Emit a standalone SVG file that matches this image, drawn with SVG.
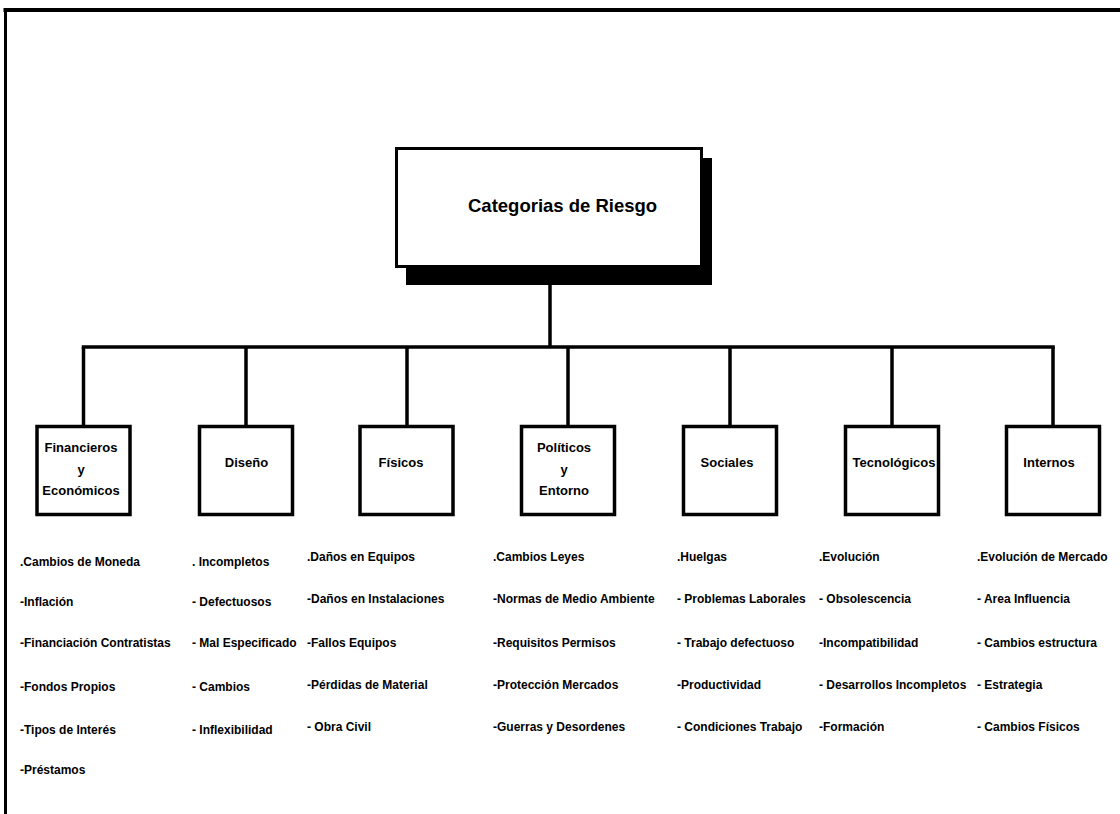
<svg xmlns="http://www.w3.org/2000/svg" width="1120" height="814" viewBox="0 0 1120 814">
<style>
.frame{fill:none;stroke:#000;}
.box{fill:#fff;stroke:#000;stroke-width:3.5;}
.line{stroke:#000;stroke-width:3.5;fill:none;}
.lbl{font-family:"Liberation Sans",Arial,sans-serif;font-weight:bold;font-size:13px;fill:#000;text-anchor:middle;}
.item{font-family:"Liberation Sans",Arial,sans-serif;font-weight:bold;font-size:12px;fill:#000;}
.title{font-family:"Liberation Sans",Arial,sans-serif;font-weight:bold;font-size:18.5px;fill:#000;}
</style>
<rect width="1120" height="814" fill="#fff"/>
<line x1="3.5" y1="10" x2="1120" y2="10" stroke="#000" stroke-width="4"/>
<line x1="5.5" y1="8" x2="5.5" y2="814" stroke="#000" stroke-width="3"/>

<g id="connectors">
<line class="line" x1="550" y1="284" x2="550" y2="347"/>
<line class="line" x1="81.75" y1="347" x2="1054.75" y2="347"/>
<line class="line" x1="83.5" y1="347" x2="83.5" y2="426"/>
<line class="line" x1="246" y1="347" x2="246" y2="426"/>
<line class="line" x1="407" y1="347" x2="407" y2="426"/>
<line class="line" x1="568" y1="347" x2="568" y2="426"/>
<line class="line" x1="730" y1="347" x2="730" y2="426"/>
<line class="line" x1="892" y1="347" x2="892" y2="426"/>
<line class="line" x1="1053" y1="347" x2="1053" y2="426"/>
</g>

<g id="root">
<rect x="406" y="158" width="306" height="127" fill="#000"/>
<rect x="396.5" y="148.5" width="305" height="118" fill="#fff" stroke="#000" stroke-width="3"/>
<text class="title" x="468" y="212">Categorias de Riesgo</text>
</g>

<g id="financieros">
<rect class="box" x="37" y="426.5" width="93" height="88"/>
<text class="lbl" x="81" y="452">Financieros</text>
<text class="lbl" x="81" y="474">y</text>
<text class="lbl" x="81" y="495">Económicos</text>
</g>
<g id="diseno">
<rect class="box" x="199.5" y="426.5" width="93" height="88"/>
<text class="lbl" x="246.5" y="467">Diseño</text>
</g>
<g id="fisicos">
<rect class="box" x="360" y="426.5" width="93" height="88"/>
<text class="lbl" x="401" y="467">Físicos</text>
</g>
<g id="politicos">
<rect class="box" x="521.5" y="426.5" width="93" height="88"/>
<text class="lbl" x="564" y="452">Políticos</text>
<text class="lbl" x="564" y="474">y</text>
<text class="lbl" x="564" y="495">Entorno</text>
</g>
<g id="sociales">
<rect class="box" x="683.5" y="426.5" width="93" height="88"/>
<text class="lbl" x="727" y="467">Sociales</text>
</g>
<g id="tecnologicos">
<rect class="box" x="845.5" y="426.5" width="93" height="88"/>
<text class="lbl" x="894" y="467">Tecnológicos</text>
</g>
<g id="internos">
<rect class="box" x="1006.5" y="426.5" width="93" height="88"/>
<text class="lbl" x="1049" y="467">Internos</text>
</g>

<g id="list-financieros">
<text class="item" x="20" y="566">.Cambios de Moneda</text>
<text class="item" x="20" y="606">-Inflación</text>
<text class="item" x="20" y="647">-Financiación Contratistas</text>
<text class="item" x="20" y="691">-Fondos Propios</text>
<text class="item" x="20" y="734">-Tipos de Interés</text>
<text class="item" x="20" y="774">-Préstamos</text>
</g>
<g id="list-diseno">
<text class="item" x="192" y="566">. Incompletos</text>
<text class="item" x="192" y="606">- Defectuosos</text>
<text class="item" x="192" y="647">- Mal Especificado</text>
<text class="item" x="192" y="691">- Cambios</text>
<text class="item" x="192" y="734">- Inflexibilidad</text>
</g>
<g id="list-fisicos">
<text class="item" x="307" y="561">.Daños en Equipos</text>
<text class="item" x="307" y="603">-Daños en Instalaciones</text>
<text class="item" x="307" y="647">-Fallos Equipos</text>
<text class="item" x="307" y="689">-Pérdidas de Material</text>
<text class="item" x="307" y="731">- Obra Civil</text>
</g>
<g id="list-politicos">
<text class="item" x="493" y="561">.Cambios Leyes</text>
<text class="item" x="493" y="603">-Normas de Medio Ambiente</text>
<text class="item" x="493" y="647">-Requisitos Permisos</text>
<text class="item" x="493" y="689">-Protección Mercados</text>
<text class="item" x="493" y="731">-Guerras y Desordenes</text>
</g>
<g id="list-sociales">
<text class="item" x="677" y="561">.Huelgas</text>
<text class="item" x="677" y="603">- Problemas Laborales</text>
<text class="item" x="677" y="647">- Trabajo defectuoso</text>
<text class="item" x="677" y="689">-Productividad</text>
<text class="item" x="677" y="731">- Condiciones Trabajo</text>
</g>
<g id="list-tecnologicos">
<text class="item" x="819" y="561">.Evolución</text>
<text class="item" x="819" y="603">- Obsolescencia</text>
<text class="item" x="819" y="647">-Incompatibilidad</text>
<text class="item" x="819" y="689">- Desarrollos Incompletos</text>
<text class="item" x="819" y="731">-Formación</text>
</g>
<g id="list-internos">
<text class="item" x="977" y="561">.Evolución de Mercado</text>
<text class="item" x="977" y="603">- Area Influencia</text>
<text class="item" x="977" y="647">- Cambios estructura</text>
<text class="item" x="977" y="689">- Estrategia</text>
<text class="item" x="977" y="731">- Cambios Físicos</text>
</g>
</svg>
